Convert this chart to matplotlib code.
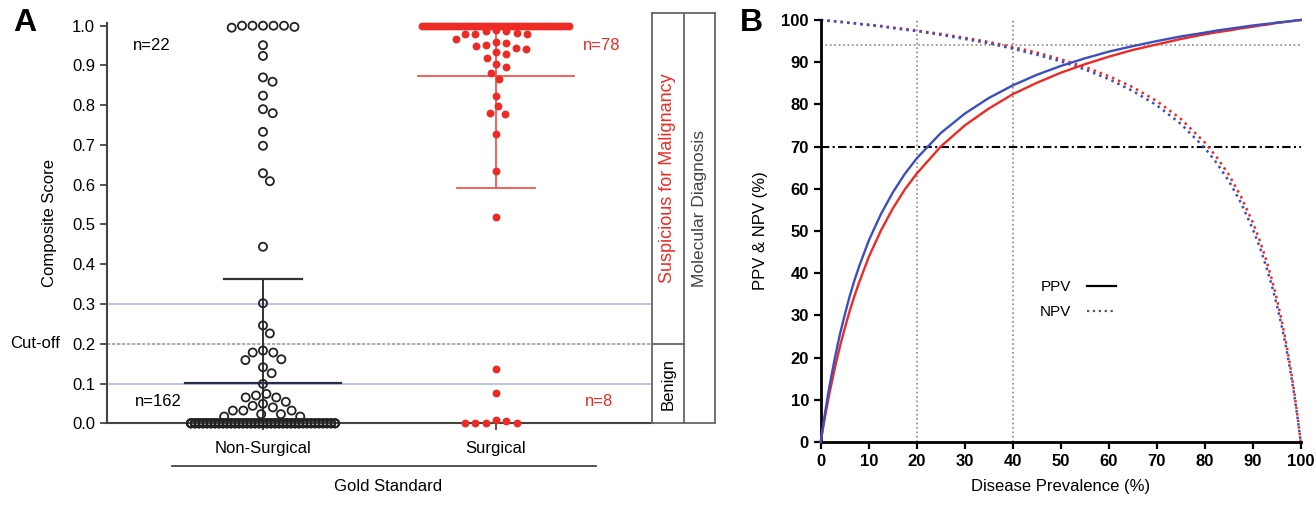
import numpy as np
import matplotlib
matplotlib.use("Agg")
import matplotlib.pyplot as plt
from matplotlib.lines import Line2D
from matplotlib.transforms import blended_transform_factory

plt.rcParams['font.family'] = ['Liberation Sans', 'DejaVu Sans']

# %% panel A data (composite scores)
groups = ['Non-Surgical', 'Surgical']
ns_high = [1.0, 1.0, 0.997, 0.995, 1.0, 1.0, 1.0, 0.951, 0.924, 0.870, 0.859,
           0.824, 0.790, 0.780, 0.733, 0.698, 0.629, 0.609, 0.444, 0.302,
           0.246, 0.226]
ns_low = [0.183, 0.178, 0.178, 0.161, 0.159, 0.141, 0.126, 0.099, 0.074,
          0.070, 0.065, 0.065, 0.054, 0.049, 0.044, 0.040, 0.032, 0.032,
          0.032, 0.023, 0.023, 0.017, 0.017] + [0.0] * 139
s_high = [1.0] * 50 + [0.988, 0.987, 0.987, 0.982, 0.980, 0.978, 0.978,
                       0.966, 0.960, 0.957, 0.951, 0.949, 0.945, 0.941,
                       0.933, 0.928, 0.920, 0.903, 0.897, 0.880, 0.865,
                       0.824, 0.798, 0.780, 0.778, 0.728, 0.635, 0.520]
s_low = [0.137, 0.077, 0.008, 0.005, 0.002, 0.0, 0.0, 0.0]
cutoff = 0.2
zone_lines = [0.1, 0.3]

# %% panel B data (PPV / NPV vs prevalence)
prev = [0, 0.5, 1, 1.5, 2, 3, 4, 5, 6, 7, 8, 10, 12.5, 15, 17.5, 20, 25, 30,
        35, 40, 45, 50, 55, 60, 65, 70, 75, 80, 82.5, 85, 87.5, 90, 91.5, 93,
        94, 95, 96, 96.5, 97, 97.5, 98, 98.5, 99, 99.5, 100]
ppv_blue = [0, 3.96, 7.6, 11.1, 14.3, 20.2, 25.5, 30.1, 34.4, 38.2, 41.6,
            47.7, 53.9, 59.1, 63.5, 67.2, 73.2, 77.8, 81.5, 84.5, 87.0, 89.1,
            90.9, 92.5, 93.8, 95.0, 96.1, 97.0, 97.5, 97.9, 98.3, 98.7, 98.9,
            99.1, 99.2, 99.4, 99.5, 99.55, 99.6, 99.7, 99.75, 99.8, 99.9,
            99.95, 100]
ppv_red = [0, 3.4, 6.6, 9.6, 12.5, 17.8, 22.6, 26.9, 30.9, 34.5, 37.8,
           43.8, 50.0, 55.3, 59.8, 63.6, 70.0, 75.0, 79.0, 82.4, 85.1, 87.5,
           89.5, 91.3, 92.9, 94.2, 95.5, 96.6, 97.1, 97.5, 98.0, 98.4, 98.7,
           98.9, 99.1, 99.3, 99.4, 99.5, 99.6, 99.65, 99.7, 99.8, 99.9,
           99.93, 100]
npv_blue = [100, 99.95, 99.9, 99.8, 99.8, 99.7, 99.55, 99.4, 99.3, 99.2,
            99.06, 98.8, 98.5, 98.1, 97.7, 97.4, 96.5, 95.5, 94.5, 93.2, 91.8,
            90.2, 88.3, 86.0, 83.2, 79.8, 75.4, 69.7, 66.1, 61.9, 56.8, 50.5,
            46.1, 40.9, 37.0, 32.6, 27.7, 25.0, 22.2, 19.1, 15.8, 12.3, 8.5,
            4.4, 0]
npv_red = [100, 99.95, 99.9, 99.85, 99.8, 99.7, 99.6, 99.5, 99.35, 99.25,
           99.1, 98.9, 98.6, 98.2, 97.9, 97.5, 96.7, 95.8, 94.8, 93.6, 92.3,
           90.7, 88.9, 86.7, 84.1, 80.8, 76.6, 71.0, 67.5, 63.4, 58.3, 52.1,
           47.7, 42.5, 38.5, 34.0, 29.0, 26.2, 23.3, 20.1, 16.7, 13.0, 9.0,
           4.7, 0]
marked_prev = [20, 40]
npv_ref = 94
target = 70

RED = '#ee2a24'
BLUE = '#3c4fbf'
LIGHT_BLUE = '#a4b4e6'

PX_X = 233.0   # pixels per category unit
PX_Y = 397.6   # pixels per score unit


def swarm(vals, diam, band_half, slot):
    """beeswarm offsets (in category units); heavy ties become a flat band"""
    vals = np.asarray(vals, float)
    off = np.zeros(len(vals))
    uniq, counts = np.unique(vals, return_counts=True)
    band_vals = set(uniq[counts >= 20])
    slots = np.arange(-band_half, band_half + 0.01, slot)
    for v in band_vals:
        idx = np.where(vals == v)[0]
        for k, i in enumerate(idx):
            off[i] = slots[k % len(slots)]
    placed = []
    for i in np.argsort(-vals, kind='stable'):
        if vals[i] in band_vals:
            continue
        y = vals[i] * PX_Y
        near = [(px, py) for px, py in placed if abs(py - y) < diam]
        cands = [0.0]
        for px, py in near:
            dx = np.sqrt(diam ** 2 - (py - y) ** 2)
            cands += [px + dx, px - dx]
        cands.sort(key=abs)
        for c in cands:
            if all((c - px) ** 2 + (y - py) ** 2 >= diam ** 2 - 1e-6
                   for px, py in near):
                break
        off[i] = c
        placed.append((c, y))
    return off / PX_X


fig = plt.figure(figsize=(13.16, 5.05), dpi=100)

# %% panel A
ymax = 1.006
ax = fig.add_axes([107 / 1316, 1 - 423.3 / 505, 545 / 1316, ymax * PX_Y / 505])
ax.set_xlim(1 - 156 / PX_X, 2 + 156 / PX_X)
ax.set_ylim(0, ymax)

for y in zone_lines:
    ax.axhline(y, color=LIGHT_BLUE, lw=1.1, zorder=1)
ax.axhline(cutoff, color='#a0a0a0', lw=1.2, ls=(0, (2, 1)), zorder=1)

ns = np.array(ns_high + ns_low)
sg = np.array(s_high + s_low)

# mean +/- SD bars
dark = '#333333'
m, sd = ns.mean(), ns.std()
ax.plot([1, 1], [max(m - sd, 0), min(m + sd, 1)], color=dark, lw=1.4, zorder=2)
ax.plot([1 - 78 / PX_X, 1 + 78 / PX_X], [m, m], color='#2a2d4a', lw=1.6, zorder=2)
ax.plot([1 - 39 / PX_X, 1 + 39 / PX_X], [m + sd] * 2, color=dark, lw=1.6, zorder=2)
m2, sd2 = sg.mean(), sg.std()
ax.plot([2, 2], [max(m2 - sd2, 0), min(m2 + sd2, 1)], color='#f2554f', lw=1.3, zorder=2)
ax.plot([2 - 78 / PX_X, 2 + 78 / PX_X], [m2, m2], color='#f2554f', lw=1.3, zorder=2)
ax.plot([2 - 39 / PX_X, 2 + 39 / PX_X], [m2 - sd2] * 2, color='#f2554f', lw=1.3, zorder=2)

ax.scatter(1 + swarm(ns, 10.5, 72, 4.0), ns, s=34, facecolors='none',
           edgecolors='#222222', linewidths=1.3, zorder=3, clip_on=False)
ax.scatter(2 + swarm(sg, 10.5, 74, 3.0), sg, s=32, color=RED, linewidths=0,
           zorder=3, clip_on=False)

ax.text(0.521, 0.951, 'n=22', fontsize=12, ha='center', va='center')
ax.text(0.551, 0.056, 'n=162', fontsize=12, ha='center', va='center')
ax.text(2.453, 0.951, 'n=78', fontsize=12, ha='center', va='center', color=RED)
ax.text(2.444, 0.056, 'n=8', fontsize=12, ha='center', va='center', color=RED)

trans = blended_transform_factory(fig.transFigure, ax.transData)
ax.text(35 / 1316, cutoff, 'Cut-off', transform=trans, fontsize=12,
        ha='center', va='center')

ax.set_yticks(np.round(np.arange(0, 1.01, 0.1), 1))
ax.set_yticklabels([f'{v:.1f}' for v in np.arange(0, 1.01, 0.1)])
ax.set_xticks([1, 2])
ax.set_xticklabels(groups)
ax.set_ylabel('Composite Score', fontsize=12, labelpad=11)
for s in ['top', 'right']:
    ax.spines[s].set_visible(False)
for s in ['left', 'bottom']:
    ax.spines[s].set_color('#444444')
    ax.spines[s].set_linewidth(1.5)
ax.tick_params(axis='both', colors='#444444', width=1.3, length=5,
               labelsize=12, labelcolor='black')
ax.tick_params(axis='x', pad=8)

ax.plot([0.119, 0.897], [-0.107, -0.107], transform=ax.transAxes,
        color='#444444', lw=1.3, clip_on=False)
ax.text(0.516, -0.159, 'Gold Standard', transform=ax.transAxes, fontsize=12,
        ha='center', va='center')
fig.text(25 / 1316, 1 - 23 / 505, 'A', fontsize=23, fontweight='bold',
         ha='center', va='center')

# diagnosis boxes
top_val = (423.3 - 13) / PX_Y
bx = fig.add_axes([652 / 1316, 1 - 423.3 / 505, 63 / 1316, top_val * PX_Y / 505])
bx.set_xlim(0, 2)
bx.set_ylim(0, top_val)
bx.set_xticks([])
bx.set_yticks([])
for s in bx.spines.values():
    s.set_color('#666666')
    s.set_linewidth(1.3)
bx.axvline(1, color='#666666', lw=1.3)
bx.plot([0, 1], [cutoff, cutoff], color='#666666', lw=1.3)
bx.text(0.5, (cutoff + top_val) / 2, 'Suspicious for Malignancy', rotation=90,
        ha='center', va='center', fontsize=13, color=RED)
bx.text(0.5, cutoff / 2, 'Benign', rotation=90, ha='center', va='center',
        fontsize=12)
bx.text(1.5, 0.54, 'Molecular Diagnosis', rotation=90, ha='center',
        va='center', fontsize=12.5, color='#444444')

# %% panel B
bx2 = fig.add_axes([820.7 / 1316, 1 - 442 / 505, 480 / 1316, 422 / 505])
bx2.set_xlim(0, 100)
bx2.set_ylim(0, 100)
for xv in marked_prev:
    bx2.axvline(xv, color='#888888', lw=1.2, ls=':', zorder=1)
bx2.axhline(npv_ref, color='#888888', lw=1.2, ls=':', zorder=1)
bx2.axhline(target, color='black', lw=1.5, ls=(0, (4, 1.6, 1, 1.6)), zorder=1)

bx2.plot(prev, npv_red, color=RED, lw=1.8, ls=':', zorder=2, clip_on=False)
bx2.plot(prev, npv_blue, color=BLUE, lw=1.8, ls=':', zorder=2, clip_on=False)
bx2.plot(prev, ppv_red, color=RED, lw=1.7, zorder=3, clip_on=False)
bx2.plot(prev, ppv_blue, color=BLUE, lw=1.7, zorder=3, clip_on=False)

handles = [Line2D([], [], color='black', lw=1.6),
           Line2D([], [], color='#555555', lw=1.6, ls=':')]
bx2.legend(handles, ['PPV', 'NPV'], loc='upper left',
           bbox_to_anchor=(0.457, 0.384), frameon=False, markerfirst=False,
           fontsize=11, handlelength=1.9, handletextpad=1.0,
           labelspacing=0.75, borderpad=0, borderaxespad=0)

bx2.set_xticks(range(0, 101, 10))
bx2.set_yticks(range(0, 101, 10))
for s in ['top', 'right']:
    bx2.spines[s].set_visible(False)
for s in ['left', 'bottom']:
    bx2.spines[s].set_linewidth(2)
bx2.tick_params(axis='both', width=1.6, length=5, labelsize=12)
for lab in bx2.get_xticklabels() + bx2.get_yticklabels():
    lab.set_fontweight('bold')
bx2.set_xlabel('Disease Prevalence (%)', fontsize=12, labelpad=7)
bx2.set_ylabel('PPV & NPV (%)', fontsize=12, labelpad=10)
fig.text(751 / 1316, 1 - 23 / 505, 'B', fontsize=23, fontweight='bold',
         ha='center', va='center')

fig.savefig('out.png', dpi=100)
